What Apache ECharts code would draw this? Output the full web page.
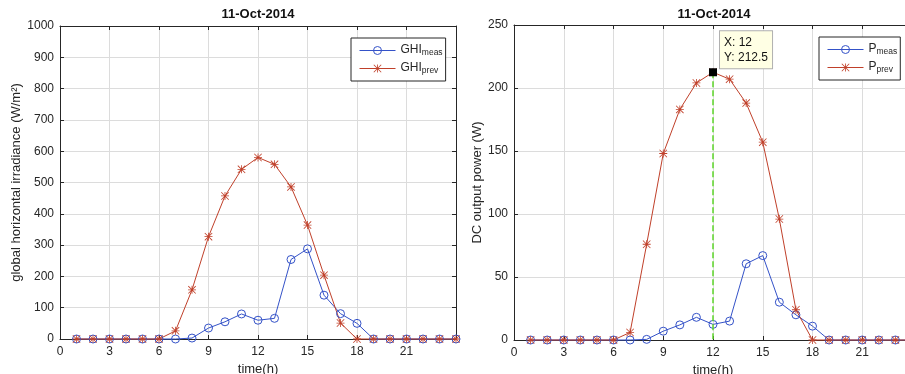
<!DOCTYPE html>
<html>
<head>
<meta charset="utf-8">
<script src="https://cdn.jsdelivr.net/npm/echarts@6/dist/echarts.min.js"></script>
<style>
html,body{margin:0;padding:0;background:#fff;}
#c{width:905px;height:374px;}
</style>
</head>
<body>
<div id="c"></div>
<script>
// ---- data ----
const hours = [1,2,3,4,5,6,7,8,9,10,11,12,13,14,15,16,17,18,19,20,21,22,23,24];
const ghiMeas = [0,0,0,0,0,0,0,3,35,55,80,60,66,254,288,140,81,50,0,0,0,0,0,0];
const ghiPrev = [0,0,0,0,0,0,26,157,327,457,542,580,558,486,364,204,51,0,0,0,0,0,0,0];
const pMeas = [0,0,0,0,0,0,0,0.5,7,12,18,12.4,15,60.5,67,30,20,11,0,0,0,0,0,0];
const pPrev = [0,0,0,0,0,0,6,76,148,183,204,212.5,207,188,157,96,24,0,0,0,0,0,0,0];
const xTicks = {min:0, max:24, interval:3};
const ghiAxis = {min:0, max:1000, interval:100};
const pAxis = {min:0, max:250, interval:50};
const titleText = '11-Oct-2014';
const tipIndex = 11; // hour 12

const BLUE = '#3452c8';
const RED = '#c0402a';
const AX = '#262626';
const FONT = 'Liberation Sans, Arial, Helvetica, sans-serif';
const STAR = 'path://M9 0 h2 v20 h-2 Z M0 9 h20 v2 h-20 Z M1.4 0 L20 18.6 L18.6 20 L0 1.4 Z M18.6 0 L20 1.4 L1.4 20 L0 18.6 Z';

function pairs(vals){ return hours.map((h,i)=>[h, vals[i]]); }

function xAxes(gi){
  return [
    {type:'value', gridIndex:gi, min:xTicks.min, max:xTicks.max, interval:xTicks.interval,
     name:'time(h)', nameLocation:'middle', nameGap:21,
     nameTextStyle:{fontSize:13, color:AX, fontFamily:FONT},
     axisLine:{onZero:false, lineStyle:{color:AX, width:1}},
     axisTick:{inside:true, length:4, lineStyle:{color:AX}},
     axisLabel:{fontSize:12, color:AX, fontFamily:FONT, margin:7,
       formatter:v=> v===24 ? '' : String(v)},
     splitLine:{show:true, lineStyle:{color:'#dcdcdc', width:1}}},
    {type:'value', gridIndex:gi, position:'top', min:xTicks.min, max:xTicks.max, interval:xTicks.interval,
     axisLine:{onZero:false, lineStyle:{color:AX, width:1}},
     axisTick:{inside:true, length:4, lineStyle:{color:AX}},
     axisLabel:{show:false}, splitLine:{show:false}}
  ];
}
function yAxes(gi, rng, name, gap){
  return [
    {type:'value', gridIndex:gi, min:rng.min, max:rng.max, interval:rng.interval,
     name:name, nameLocation:'middle', nameGap:gap, nameRotate:90,
     nameTextStyle:{fontSize:13, color:AX, fontFamily:FONT},
     axisLine:{show:true, onZero:false, lineStyle:{color:AX, width:1}},
     axisTick:{show:true, inside:true, length:4, lineStyle:{color:AX}},
     axisLabel:{fontSize:12, color:AX, fontFamily:FONT, margin:6, formatter:v=>String(v)},
     splitLine:{show:true, lineStyle:{color:'#dcdcdc', width:1}}},
    {type:'value', gridIndex:gi, position:'right', min:rng.min, max:rng.max, interval:rng.interval,
     axisLine:{show:true, onZero:false, lineStyle:{color:AX, width:1}},
     axisTick:{show:true, inside:true, length:4, lineStyle:{color:AX}},
     axisLabel:{show:false}, splitLine:{show:false}}
  ];
}
function lineSeries(name, vals, xi, yi, color, sym, size, extra){
  const hollow = sym==='circle';
  return Object.assign({
    type:'line', name:name, xAxisIndex:xi, yAxisIndex:yi, data:pairs(vals),
    symbol:sym, symbolSize:size, showSymbol:true, showAllSymbol:true,
    lineStyle:{color:color, width:1},
    itemStyle: hollow ? {color:'rgba(255,255,255,0)', borderColor:color, borderWidth:1}
                      : {color:color, borderWidth:0},
    emphasis:{disabled:true}, animation:false, clip:false
  }, extra||{});
}

const subRich = {
  m:{fontSize:12, color:AX, fontFamily:FONT, lineHeight:13, verticalAlign:'top'},
  s:{fontSize:8.5, color:AX, fontFamily:FONT, lineHeight:10, verticalAlign:'bottom'}
};
function legendOf(names, left, top){
  return {
    data:names, orient:'vertical', left:left, top:top,
    padding:[6,3,6,8], itemGap:5, itemWidth:36, itemHeight:10,
    borderColor:AX, borderWidth:1, backgroundColor:'#fff', borderRadius:0,
    selectedMode:false,
    lineStyle:{width:1},
    itemStyle:{borderWidth:1},
    textStyle:{rich:subRich, lineHeight:17, padding:[0,0,0,0]},
    formatter:n=>{ const p=n.split('_'); return '{m|'+p[0]+'}{s|'+p[1]+'}'; }
  };
}

const option = {
  animation:false,
  backgroundColor:'#fff',
  title:[
    {text:titleText, left:258, top:8, textAlign:'center', padding:0,
     textStyle:{fontSize:13, fontWeight:'bold', color:'#111', fontFamily:FONT}},
    {text:titleText, left:714, top:8, textAlign:'center', padding:0,
     textStyle:{fontSize:13, fontWeight:'bold', color:'#111', fontFamily:FONT}}
  ],
  grid:[
    {left:60, top:26, width:396, height:313, containLabel:false, outerBoundsMode:'none'},
    {left:514, top:25, width:398, height:315, containLabel:false, outerBoundsMode:'none'}
  ],
  xAxis:[...xAxes(0), ...xAxes(1)],
  yAxis:[...yAxes(0, ghiAxis, 'global horizontal irradiance (W/m²)', 31),
         ...yAxes(1, pAxis, 'DC output power (W)', 28)],
  legend:[legendOf(['GHI_meas','GHI_prev'], 351, 38), legendOf(['P_meas','P_prev'], 819, 37)],
  series:[
    lineSeries('GHI_meas', ghiMeas, 0, 0, BLUE, 'circle', 8),
    lineSeries('GHI_prev', ghiPrev, 0, 0, RED, STAR, 8),
    lineSeries('P_meas', pMeas, 2, 2, BLUE, 'circle', 8),
    lineSeries('P_prev', pPrev, 2, 2, RED, STAR, 8, {
      markLine:{
        silent:true, symbol:['none','none'], animation:false,
        lineStyle:{type:'dashed', color:'#5ed62a', width:1.5},
        label:{show:false},
        data:[[{coord:[hours[tipIndex], pPrev[tipIndex]]},{coord:[hours[tipIndex], 0]}]]
      },
      markPoint:{
        silent:true, animation:false, symbol:'rect', symbolSize:8,
        itemStyle:{color:'#000'},
        label:{show:true, position:[11,-37], align:'left', verticalAlign:'top',
          formatter:'X: '+hours[tipIndex]+'\nY: '+pPrev[tipIndex],
          backgroundColor:'#ffffe4', borderColor:'#b0b0b0', borderWidth:1,
          padding:[4,4,3,4], fontSize:12, lineHeight:15, color:'#111', fontFamily:FONT},
        data:[{coord:[hours[tipIndex], pPrev[tipIndex]]}]
      }
    })
  ]
};
const chart = echarts.init(document.getElementById('c'), null, {renderer:'canvas'});
chart.setOption(option);
</script>
</body>
</html>
